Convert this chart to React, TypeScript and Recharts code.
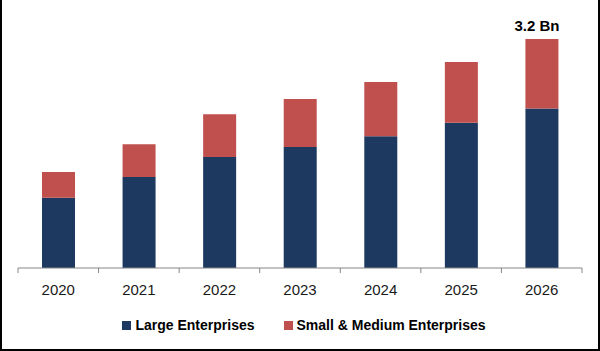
import React from "react";
import { BarChart, Bar, XAxis, YAxis, Legend, LabelList } from "recharts";

const categories = ["2020", "2021", "2022", "2023", "2024", "2025", "2026"];
const largeEnterprises = [0.98, 1.27, 1.55, 1.69, 1.84, 2.03, 2.23];
const smallMedium = [0.36, 0.46, 0.6, 0.67, 0.76, 0.85, 0.97];
const topLabel = "3.2 Bn";

const data = categories.map((c, i) => ({
  year: c,
  large: largeEnterprises[i],
  sme: smallMedium[i],
}));

const W = 600;
const H = 351;
const ML = 18;
const MR = 18;
const BAND = (W - ML - MR) / categories.length;
const NAVY = "#1d3960";
const RED = "#c0504d";
const AXIS = "#868686";
const FONT = "'Liberation Sans', Arial, sans-serif";

const Tick = (props: any) => {
  const { x, y, payload, index } = props;
  const half = BAND / 2;
  const ly = y - 8;
  return (
    <g>
      <line x1={x - half} y1={ly} x2={x - half} y2={ly + 5} stroke={AXIS} strokeWidth={1} />
      {index === categories.length - 1 && (
        <line x1={x + half} y1={ly} x2={x + half} y2={ly + 5} stroke={AXIS} strokeWidth={1} />
      )}
      <text x={x} y={ly + 27} textAnchor="middle" fontSize={15} fill="#1a1a1a" fontFamily={FONT}>
        {payload.value}
      </text>
    </g>
  );
};

const TopLabel = (props: any) => {
  const { x, y, width, index } = props;
  if (index !== categories.length - 1) return null;
  return (
    <text
      x={x + width / 2 - 5}
      y={y - 8.5}
      textAnchor="middle"
      fontSize={15}
      fontWeight="bold"
      fill="#000"
      fontFamily={FONT}
    >
      {topLabel}
    </text>
  );
};

const LegendContent = () => {
  const items = [
    { label: "Large Enterprises", color: NAVY },
    { label: "Small & Medium Enterprises", color: RED },
  ];
  return (
    <div
      style={{
        display: "flex",
        justifyContent: "center",
        alignItems: "center",
        height: 24,
        gap: 29,
        fontFamily: FONT,
        fontSize: 14,
        fontWeight: "bold",
        color: "#000",
        paddingLeft: 8,
      }}
    >
      {items.map((it) => (
        <div key={it.label} style={{ display: "flex", alignItems: "center" }}>
          <span style={{ width: 9, height: 9, background: it.color, display: "inline-block", marginRight: 4 }} />
          <span>{it.label}</span>
        </div>
      ))}
    </div>
  );
};

export default function App() {
  return (
    <div style={{ position: "absolute", left: 0, top: 0, width: W, height: H, background: "#fff" }}>
      <BarChart
        width={W}
        height={H}
        data={data}
        margin={{ top: 39, right: MR, left: ML, bottom: 29 }}
        barSize={33}
      >
        <XAxis
          dataKey="year"
          axisLine={{ stroke: AXIS, strokeWidth: 1 }}
          tickLine={false}
          tick={<Tick />}
          height={30}
          interval={0}
        />
        <YAxis hide domain={[0, 3.2]} />
        <Legend
          verticalAlign="bottom"
          content={<LegendContent />}
          wrapperStyle={{ top: 313, left: 0, width: W }}
        />
        <Bar dataKey="large" stackId="a" fill={NAVY} isAnimationActive={false} />
        <Bar dataKey="sme" stackId="a" fill={RED} isAnimationActive={false}>
          <LabelList dataKey="sme" content={<TopLabel />} />
        </Bar>
      </BarChart>
      <div
        style={{
          position: "absolute",
          left: 0,
          top: 0,
          width: W,
          height: H,
          boxSizing: "border-box",
          borderLeft: "2px solid #000",
          borderRight: "2px solid #000",
          borderBottom: "2px solid #000",
          pointerEvents: "none",
        }}
      />
    </div>
  );
}
